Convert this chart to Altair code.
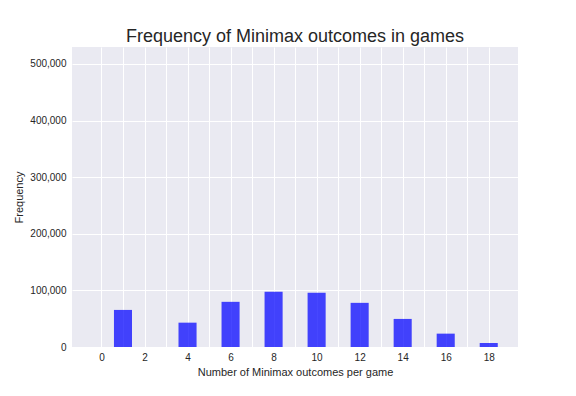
import altair as alt
import pandas as pd

outcomes = [1, 4, 6, 8, 10, 12, 14, 16, 18]
frequency = [65500, 43000, 79800, 97500, 95700, 78000, 49600, 23600, 7100]
x_ticks = list(range(0, 19))
y_ticks = [0, 100000, 200000, 300000, 400000, 500000]

df = pd.DataFrame({"outcomes": outcomes, "frequency": frequency})

FONT = "Liberation Sans"
TXT = "#262626"

chart = (
    alt.Chart(df)
    .transform_calculate(x0="datum.outcomes - 0.42", x1="datum.outcomes + 0.42")
    .mark_bar(color="blue", opacity=0.72)
    .encode(
        x=alt.X(
            "x0:Q",
            scale=alt.Scale(domain=[-1.37, 19.36], nice=False, zero=False),
            axis=alt.Axis(
                values=x_ticks,
                labelExpr="datum.value % 2 == 0 ? datum.label : ''",
                title="Number of Minimax outcomes per game",
                titleFontSize=11,
                titleFontWeight="normal",
                titleColor=TXT,
                titleFont=FONT,
                titlePadding=4,
                labelFont=FONT,
                labelFontSize=10,
                labelColor=TXT,
                labelPadding=5,
                ticks=False,
                domain=False,
                grid=True,
                gridColor="white",
                gridWidth=1,
            ),
        ),
        x2="x1:Q",
        y=alt.Y(
            "frequency:Q",
            scale=alt.Scale(domain=[0, 530000], nice=False),
            axis=alt.Axis(
                values=y_ticks,
                format=",.0f",
                title="Frequency",
                titleFontSize=11,
                titleFontWeight="normal",
                titleColor=TXT,
                titleFont=FONT,
                titlePadding=5,
                labelFont=FONT,
                labelFontSize=10,
                labelColor=TXT,
                labelPadding=6,
                ticks=False,
                domain=False,
                grid=True,
                gridColor="white",
                gridWidth=1,
            ),
        ),
        y2=alt.datum(0),
    )
    .properties(
        width=446,
        height=300,
        background="white",
        title=alt.TitleParams(
            "Frequency of Minimax outcomes in games",
            font=FONT,
            fontSize=18,
            fontWeight="normal",
            color=TXT,
            anchor="middle",
            offset=1,
        ),
        autosize=alt.AutoSizeParams(type="none"),
        padding={"left": 64, "top": 39, "right": 50, "bottom": 41},
    )
    .configure_view(fill="#EAEAF2", stroke=None)
)

chart.save("out.html", embed_options={"renderer": "svg", "actions": False})
